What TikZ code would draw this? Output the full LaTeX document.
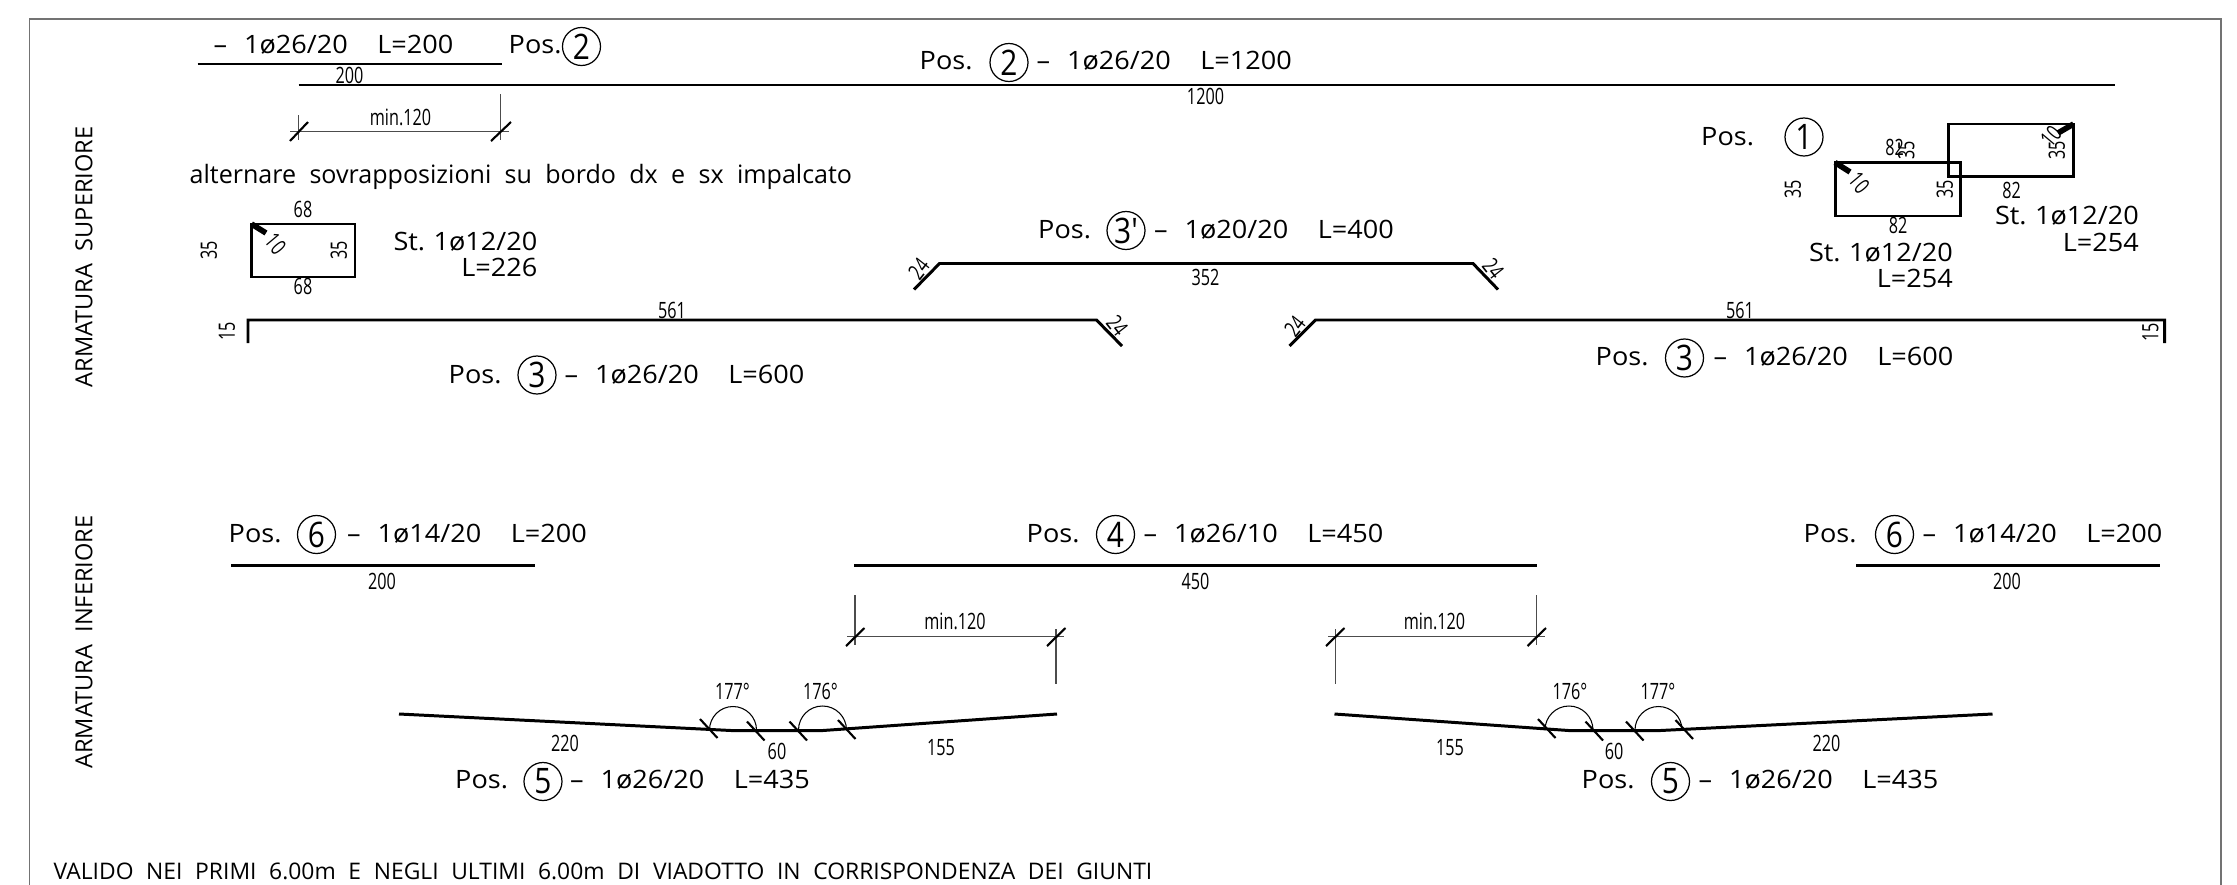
\documentclass[tikz,border=0pt]{standalone}
\usepackage{fontspec}
\setmainfont{Open Sans}
\newfontfamily\posfont[FakeStretch=1.07,WordSpace=1.2]{Open Sans}
\newfontfamily\notefont[FakeStretch=0.99,WordSpace=2.05]{Open Sans}
\newfontfamily\capfont[FakeStretch=1.001,WordSpace=2.13]{Open Sans}
\newfontfamily\titlefont[FakeStretch=1.002,WordSpace=2.0]{Open Sans}
\newfontfamily\dimfont[FakeStretch=0.72]{Open Sans}
\newfontfamily\tagfont[FakeStretch=0.85]{Open Sans}

\begin{document}
\begin{tikzpicture}[x=0.1mm,y=-0.1mm]

    % Define styles
    \tikzstyle{frame_line} = [draw=black!55, line width=0.45pt]
    \tikzstyle{bar_line} = [draw=black, line width=0.85pt, line join=miter]
    \tikzstyle{hook_line} = [draw=black, line width=1.6pt]
    \tikzstyle{ext_line} = [draw=black!70, line width=0.3pt]
    \tikzstyle{tick_line} = [draw=black, line width=0.6pt]
    \tikzstyle{arc_line} = [draw=black, line width=0.3pt]
    \tikzstyle{pos_text} = [inner sep=0pt, text height=5pt, text depth=0pt, font=\posfont\fontsize{7.2pt}{8pt}\selectfont]
    \tikzstyle{note_text} = [inner sep=0pt, text height=5pt, text depth=0pt, font=\notefont\fontsize{7.2pt}{8pt}\selectfont]
    \tikzstyle{cap_text} = [inner sep=0pt, text height=4.6pt, text depth=0pt, font=\capfont\fontsize{6.5pt}{8pt}\selectfont]
    \tikzstyle{title_text} = [inner sep=0pt, text height=4.8pt, text depth=0pt, font=\titlefont\fontsize{6.7pt}{8pt}\selectfont]
    \tikzstyle{dim_text} = [inner sep=0pt, text height=4.5pt, text depth=0pt, font=\dimfont\fontsize{6.4pt}{7pt}\selectfont]
    \tikzstyle{pos_tag} = [draw, circle, line width=0.35pt, inner sep=0pt, minimum size=3.8mm, font=\tagfont\fontsize{10pt}{10pt}\selectfont]

    \useasboundingbox (0,0) rectangle (2237,885);

    % Frame, open at the bottom
    \draw [frame_line] (29.5,885) -- (29.5,19) -- (2221,19) -- (2221,885);

    % Side titles
    \node [title_text, rotate=90] (title_top) at (84,257) {ARMATURA SUPERIORE};
    \node [title_text, rotate=90] (title_bottom) at (84,642) {ARMATURA INFERIORE};
    \node [cap_text, anchor=west] (note_bottom) at (53,871) {VALIDO NEI PRIMI 6.00m E NEGLI ULTIMI 6.00m DI VIADOTTO IN CORRISPONDENZA DEI GIUNTI};

    % Pos 2
    \node [pos_text, anchor=west] (label_lap) at (213,45) {–~~1ø26/20~~~\,L=200};
    \node [pos_text, anchor=west] (pos_lap) at (508,45) {Pos.};
    \node [pos_tag] (tag_lap) at (581.5,46.5) {2};
    \draw [bar_line] (197.5,64) -- (501.5,64);
    \node [dim_text] (dim_lap) at (349.5,76) {200};
    \node [pos_text, anchor=west] (pos_two) at (919,61) {Pos.};
    \node [pos_tag] (tag_two) at (1009,62.5) {2};
    \node [pos_text, anchor=west] (label_two) at (1036,61) {–~~1ø26/20~~~\,L=1200};
    \draw [bar_line] (298.5,85) -- (2115,85);
    \node [dim_text] (dim_two) at (1205.5,97) {1200};

    % Lap dimension on top
    \draw [ext_line] (298.5,115) -- (298.5,140);
    \draw [ext_line] (500.5,94) -- (500.5,140);
    \draw [ext_line] (290,131.5) -- (509,131.5);
    \draw [tick_line] (290,141) -- (308,122);
    \draw [tick_line] (491,141) -- (511,122);
    \node [dim_text] (dim_top) at (400.5,118) {min.120};
    \node [note_text, anchor=west] (note_lap) at (189,175) {alternare sovrapposizioni su bordo dx e sx impalcato};

    % Stirrup on the left
    \draw [bar_line] (251.5,224) rectangle (355,277);
    \draw [hook_line] (251.5,224) -- (266,233);
    \node [dim_text, rotate=-50] (hook_left) at (275.5,244) {10};
    \node [dim_text] (stir_top) at (303,210) {68};
    \node [dim_text] (stir_bottom) at (303,287) {68};
    \node [dim_text, rotate=90] (stir_out) at (209,250) {35};
    \node [dim_text, rotate=90] (stir_in) at (339,250.5) {35};
    \node [pos_text, anchor=east] (label_stir) at (538,241.5) {St.~1ø12/20};
    \node [pos_text, anchor=east] (len_stir) at (538,268) {L=226};

    % Stirrups on the right
    \node [pos_text, anchor=west] (pos_one) at (1700.5,136.5) {Pos.};
    \node [pos_tag] (tag_one) at (1804,137) {1};
    \draw [bar_line] (1835,162.5) rectangle (1960.5,216);
    \draw [bar_line] (1948.5,124) rectangle (2073.5,176.5);
    \draw [hook_line] (1835,162.5) -- (1850,172);
    \draw [hook_line] (2073.5,124) -- (2058,133);
    \node [dim_text, rotate=-50] (hook_a) at (1859,183) {10};
    \node [dim_text, rotate=50] (hook_b) at (2051,136.5) {10};
    \node [dim_text, rotate=90] (stir_a_out) at (1793,189) {35};
    \node [dim_text, rotate=90] (stir_a_in) at (1945,189) {35};
    \node [dim_text, rotate=90] (stir_b_out) at (1906.5,150) {35};
    \node [dim_text, rotate=90] (stir_b_in) at (2057,150) {35};
    \node [dim_text] (stir_a_top) at (1894.5,148) {82};
    \node [dim_text] (stir_a_bottom) at (1898,225.5) {82};
    \node [dim_text] (stir_b_bottom) at (2011.5,190.5) {82};
    \node [pos_text, anchor=east] (label_stir_b) at (2139.5,216) {St.~1ø12/20};
    \node [pos_text, anchor=east] (len_stir_b) at (2139.5,242.5) {L=254};
    \node [pos_text, anchor=east] (label_stir_a) at (1953.5,252.5) {St.~1ø12/20};
    \node [pos_text, anchor=east] (len_stir_a) at (1953.5,279) {L=254};

    % Pos 3 prime
    \node [pos_text, anchor=west] (pos_prime) at (1037.5,230) {Pos.};
    \node [pos_tag] (tag_prime) at (1126,230.5) {3'};
    \node [pos_text, anchor=west] (label_prime) at (1153.5,230) {–~~1ø20/20~~~\,L=400};
    \draw [bar_line] (914,289.5) -- (939.5,263.5) -- (1473,263.5) -- (1498,289.5);
    \node [dim_text] (dim_prime) at (1205.5,278) {352};
    \node [dim_text, rotate=52] (end_prime_left) at (919,269) {24};
    \node [dim_text, rotate=-52] (end_prime_right) at (1493,269) {24};

    % Pos 3 left and right
    \draw [bar_line] (248,343) -- (248,320) -- (1096.5,320) -- (1122,346);
    \draw [bar_line] (1289.5,346) -- (1315.5,320) -- (2164.5,320) -- (2164.5,343);
    \node [dim_text] (dim_left) at (672,310.5) {561};
    \node [dim_text] (dim_right) at (1740,310.5) {561};
    \node [dim_text, rotate=90] (end_left) at (227,331.5) {15};
    \node [dim_text, rotate=90] (end_right) at (2150.5,332) {15};
    \node [dim_text, rotate=-52] (bend_left) at (1117,325.5) {24};
    \node [dim_text, rotate=52] (bend_right) at (1295,326.5) {24};
    \node [pos_text, anchor=west] (pos_left) at (448,375) {Pos.};
    \node [pos_tag] (tag_left) at (537,375) {3};
    \node [pos_text, anchor=west] (label_left) at (564,375) {–~~1ø26/20~~~\,L=600};
    \node [pos_text, anchor=west] (pos_right) at (1595,357) {Pos.};
    \node [pos_tag] (tag_right) at (1684.5,358) {3};
    \node [pos_text, anchor=west] (label_right) at (1713,357) {–~~1ø26/20~~~\,L=600};

    % Pos 6 and pos 4
    \node [pos_text, anchor=west] (pos_six_left) at (228,534) {Pos.};
    \node [pos_tag] (tag_six_left) at (316.5,534.5) {6};
    \node [pos_text, anchor=west] (label_six_left) at (346.5,534) {–~~1ø14/20~~~\,L=200};
    \draw [bar_line] (231,565) -- (535,565);
    \node [dim_text] (dim_six_left) at (382,582) {200};
    \node [pos_text, anchor=west] (pos_six_right) at (1803,534) {Pos.};
    \node [pos_tag] (tag_six_right) at (1894.5,534.5) {6};
    \node [pos_text, anchor=west] (label_six_right) at (1922,534) {–~~1ø14/20~~~\,L=200};
    \draw [bar_line] (1856,565) -- (2160,565);
    \node [dim_text] (dim_six_right) at (2007,582) {200};
    \node [pos_text, anchor=west] (pos_four) at (1026,534) {Pos.};
    \node [pos_tag] (tag_four) at (1115.5,534.5) {4};
    \node [pos_text, anchor=west] (label_four) at (1143,534) {–~~1ø26/10~~~\,L=450};
    \draw [bar_line] (854,565) -- (1536.5,565);
    \node [dim_text] (dim_four) at (1195.5,582) {450};

    % Lap dimensions and the two pos 5 bars, the right one is mirrored
    \foreach \sgn/\off in {1/0, -1/2391.5} {
        \begin{scope}[xshift=\off*0.1mm, xscale=\sgn]
            \draw [ext_line] (855,595) -- (855,645);
            \draw [ext_line] (1056,629) -- (1056,684);
            \draw [ext_line] (847,636.5) -- (1064,636.5);
            \draw [bar_line] (399,714) -- (731,730.5) -- (823,730.5) -- (1057,714);
            \draw [arc_line] (709.5,730) arc [start angle=180, end angle=360, radius=23.5];
            \draw [arc_line] (798.5,730) arc [start angle=180, end angle=360, radius=24];
        \end{scope}
    }
    % Ticks lean the same way on both sides
    \foreach \tickx in {846, 1047, 1326, 1527.5}
        \draw [tick_line] (\tickx,646) -- ++(18.5,-18);
    \foreach \tickx/\ticky in {700/719, 747/721.5, 789.5/721.5, 838/720, 1538/719, 1585.5/721.5, 1626/721.5, 1675.5/720}
        \draw [tick_line] (\tickx,\ticky) -- ++(17.5,19);
    \node [dim_text] (dim_five_a) at (955,622) {min.120};
    \node [dim_text] (dim_five_b) at (1434.5,622) {min.120};
    \node [dim_text] (angle_a) at (732.5,692) {177°};
    \node [dim_text] (angle_b) at (820.5,692) {176°};
    \node [dim_text] (angle_c) at (1570,692) {176°};
    \node [dim_text] (angle_d) at (1658,692) {177°};
    \node [dim_text] (length_a) at (565,744) {220};
    \node [dim_text] (length_b) at (777,751.5) {60};
    \node [dim_text] (length_c) at (941,748) {155};
    \node [dim_text] (length_d) at (1450,748) {155};
    \node [dim_text] (length_e) at (1614,751.5) {60};
    \node [dim_text] (length_f) at (1826.5,744) {220};
    \node [pos_text, anchor=west] (pos_five_left) at (454.5,780) {Pos.};
    \node [pos_tag] (tag_five_left) at (543,781.5) {5};
    \node [pos_text, anchor=west] (label_five_left) at (569.5,780) {–~~1ø26/20~~~\,L=435};
    \node [pos_text, anchor=west] (pos_five_right) at (1581,780) {Pos.};
    \node [pos_tag] (tag_five_right) at (1670.5,781.5) {5};
    \node [pos_text, anchor=west] (label_five_right) at (1698,780) {–~~1ø26/20~~~\,L=435};

\end{tikzpicture}
\end{document}
